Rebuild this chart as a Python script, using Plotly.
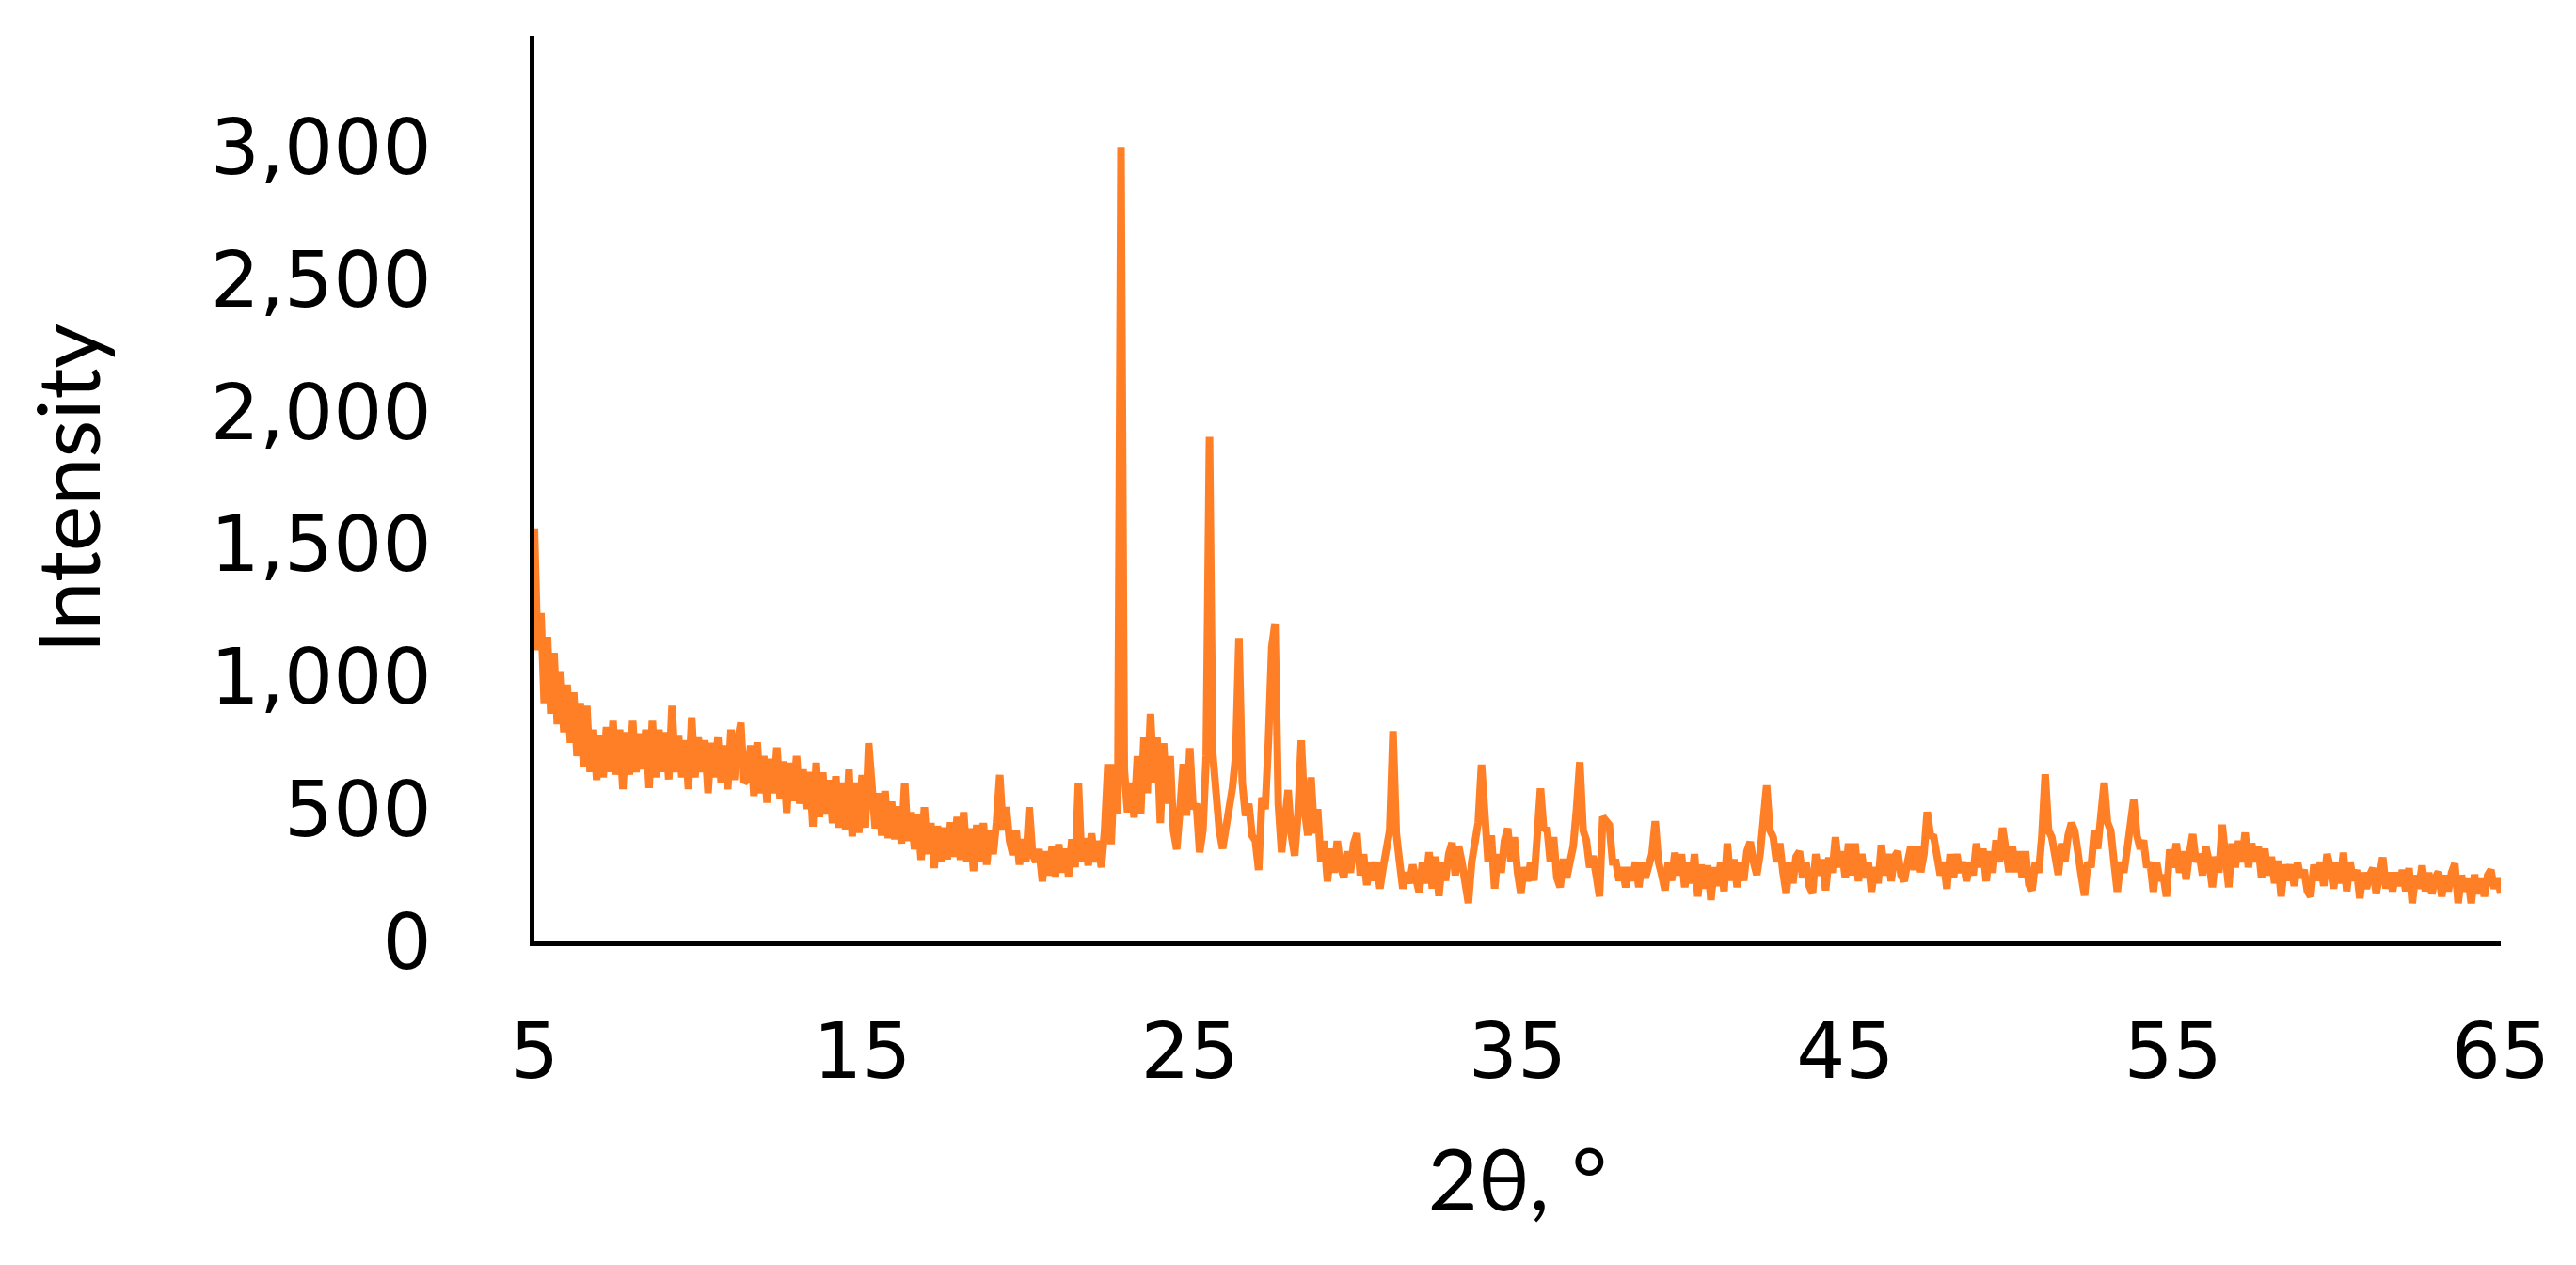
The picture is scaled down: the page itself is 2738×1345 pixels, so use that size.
import plotly.graph_objects as go

# ---- XRD scan (2theta in degrees, intensity in counts) ----
two_theta_low = [
    5.0, 5.1, 5.2, 5.3, 5.4, 5.5, 5.6, 5.7, 5.8, 5.9,
    6.0, 6.1, 6.2, 6.3, 6.4, 6.5, 6.6, 6.7, 6.8, 6.9,
    7.0, 7.1, 7.2, 7.3, 7.4, 7.5, 7.6, 7.7, 7.8, 7.9,
    8.0, 8.1, 8.2, 8.3, 8.4, 8.5, 8.6, 8.7, 8.8, 8.9,
    9.0, 9.1, 9.2, 9.3, 9.4, 9.5, 9.6, 9.7, 9.8, 9.9,
    10.0, 10.1, 10.2, 10.3, 10.4, 10.5, 10.6, 10.7, 10.8, 10.9,
    11.0, 11.1, 11.2, 11.3, 11.4, 11.5, 11.6, 11.7, 11.8, 11.9,
    12.0, 12.1, 12.2, 12.3, 12.4, 12.5, 12.6, 12.7, 12.8, 12.9,
    13.0, 13.1, 13.2, 13.3, 13.4, 13.5, 13.6, 13.7, 13.8, 13.9,
    14.0, 14.1, 14.2, 14.3, 14.4, 14.5, 14.6, 14.7, 14.8, 14.9,
    15.0, 15.1, 15.2, 15.3, 15.4, 15.5, 15.6, 15.7, 15.8, 15.9,
    16.0, 16.1, 16.2, 16.3, 16.4, 16.5, 16.6, 16.7, 16.8, 16.9,
    17.0, 17.1, 17.2, 17.3, 17.4, 17.5, 17.6, 17.7, 17.8, 17.9,
    18.0, 18.1, 18.2, 18.3, 18.4, 18.5, 18.6, 18.7, 18.8, 18.9,
    19.0, 19.1, 19.2, 19.3, 19.4, 19.5, 19.6, 19.7, 19.8, 19.9,
]
intensity_low = [
    1560, 1100, 1240, 900, 1150, 860, 1090, 820, 1020, 790,
    970, 750, 940, 700, 900, 660, 890, 640, 800, 610,
    780, 620, 810, 640, 833, 630, 800, 575, 790, 630,
    833, 640, 785, 650, 800, 580, 833, 620, 800, 640,
    790, 612, 890, 640, 776, 620, 760, 575, 846, 620,
    770, 640, 760, 560, 750, 620, 770, 600, 740, 575,
    800, 610, 760, 826, 600, 611, 740, 550, 752, 560,
    700, 524, 690, 560, 732, 540, 680, 486, 675, 530,
    700, 520, 650, 500, 640, 434, 675, 470, 638, 480,
    610, 447, 624, 430, 600, 420, 649, 397, 600, 410,
    629, 430, 749, 600, 427, 560, 400, 568, 390, 528,
    386, 510, 370, 599, 380, 488, 348, 480, 308, 507,
    330, 447, 277, 436, 300, 430, 310, 450, 320, 470,
    308, 488, 300, 427, 266, 440, 300, 447, 290, 420,
    330, 450, 629, 420, 507, 380, 327, 420, 290, 386,
]

two_theta_main = [
    20.0, 20.1, 20.2, 20.3, 20.4, 20.5, 20.6, 20.7, 20.8, 20.9,
    21.0, 21.1, 21.2, 21.3, 21.4, 21.5, 21.6, 21.7, 21.8, 21.9,
    22.0, 22.1, 22.2, 22.3, 22.4, 22.5, 22.6, 22.7, 22.8, 22.9,
    23.0, 23.1, 23.2, 23.3, 23.4, 23.5, 23.6, 23.7, 23.8, 23.9,
    24.0, 24.1, 24.2, 24.3, 24.4, 24.5, 24.6, 24.7, 24.8, 24.9,
    25.0, 25.1, 25.2, 25.3, 25.4, 25.5, 25.6, 25.7, 25.8, 25.9,
    26.0, 26.1, 26.2, 26.3, 26.4, 26.5, 26.6, 26.7, 26.8, 26.9,
    27.0, 27.1, 27.2, 27.3, 27.4, 27.5, 27.6, 27.7, 27.8, 27.9,
    28.0, 28.1, 28.2, 28.3, 28.4, 28.5, 28.6, 28.7, 28.8, 28.9,
    29.0, 29.1, 29.2, 29.3, 29.4, 29.5, 29.6, 29.7, 29.8, 29.9,
    30.0, 30.1, 30.2, 30.3, 30.4, 30.5, 30.6, 30.7, 30.8, 30.9,
    31.0, 31.1, 31.2, 31.3, 31.4, 31.5, 31.6, 31.7, 31.8, 31.9,
    32.0, 32.1, 32.2, 32.3, 32.4, 32.5, 32.6, 32.7, 32.8, 32.9,
    33.0, 33.1, 33.2, 33.3, 33.4, 33.5, 33.6, 33.7, 33.8, 33.9,
    34.0, 34.1, 34.2, 34.3, 34.4, 34.5, 34.6, 34.7, 34.8, 34.9,
]
intensity_main = [
    300, 507, 330, 300, 348, 227, 340, 250, 360, 246,
    367, 260, 350, 246, 386, 280, 599, 300, 390, 287,
    408, 300, 380, 280, 420, 670, 367, 670, 480, 3000,
    650, 488, 600, 468, 700, 480, 770, 560, 860, 600,
    770, 447, 749, 520, 700, 420, 348, 500, 670, 475,
    730, 500, 520, 337, 420, 700, 1905, 709, 560, 420,
    351, 420, 503, 580, 700, 1146, 600, 475, 520, 400,
    380, 270, 544, 500, 760, 1110, 1200, 520, 337, 480,
    572, 400, 324, 480, 759, 500, 400, 620, 408, 500,
    300, 380, 227, 350, 260, 379, 280, 241, 340, 260,
    370, 408, 250, 330, 213, 300, 230, 300, 200, 280,
    337, 420, 794, 408, 300, 200, 260, 220, 290, 241,
    184, 300, 220, 337, 200, 320, 172, 300, 230, 330,
    372, 250, 360, 300, 220, 145, 300, 380, 450, 668,
    520, 300, 400, 200, 330, 260, 380, 427, 300, 394,
]

two_theta_mid = [
    35.0, 35.1, 35.2, 35.3, 35.4, 35.5, 35.6, 35.7, 35.8, 35.9,
    36.0, 36.1, 36.2, 36.3, 36.4, 36.5, 36.6, 36.7, 36.8, 36.9,
    37.0, 37.1, 37.2, 37.3, 37.4, 37.5, 37.6, 37.7, 37.8, 37.9,
    38.0, 38.1, 38.2, 38.3, 38.4, 38.5, 38.6, 38.7, 38.8, 38.9,
    39.0, 39.1, 39.2, 39.3, 39.4, 39.5, 39.6, 39.7, 39.8, 39.9,
    40.0, 40.1, 40.2, 40.3, 40.4, 40.5, 40.6, 40.7, 40.8, 40.9,
    41.0, 41.1, 41.2, 41.3, 41.4, 41.5, 41.6, 41.7, 41.8, 41.9,
    42.0, 42.1, 42.2, 42.3, 42.4, 42.5, 42.6, 42.7, 42.8, 42.9,
    43.0, 43.1, 43.2, 43.3, 43.4, 43.5, 43.6, 43.7, 43.8, 43.9,
    44.0, 44.1, 44.2, 44.3, 44.4, 44.5, 44.6, 44.7, 44.8, 44.9,
    45.0, 45.1, 45.2, 45.3, 45.4, 45.5, 45.6, 45.7, 45.8, 45.9,
    46.0, 46.1, 46.2, 46.3, 46.4, 46.5, 46.6, 46.7, 46.8, 46.9,
    47.0, 47.1, 47.2, 47.3, 47.4, 47.5, 47.6, 47.7, 47.8, 47.9,
    48.0, 48.1, 48.2, 48.3, 48.4, 48.5, 48.6, 48.7, 48.8, 48.9,
    49.0, 49.1, 49.2, 49.3, 49.4, 49.5, 49.6, 49.7, 49.8, 49.9,
]
intensity_mid = [
    260, 181, 280, 228, 299, 230, 400, 578, 420, 429,
    300, 394, 240, 205, 312, 240, 300, 360, 500, 677,
    420, 382, 280, 323, 250, 170, 471, 454, 440, 300,
    299, 230, 280, 205, 280, 230, 300, 205, 299, 240,
    290, 330, 454, 300, 250, 193, 300, 230, 335, 250,
    330, 205, 300, 220, 330, 170, 290, 200, 287, 157,
    280, 210, 300, 190, 370, 230, 310, 205, 299, 230,
    340, 376, 300, 252, 330, 450, 589, 420, 394, 300,
    370, 260, 181, 300, 220, 320, 340, 240, 300, 210,
    181, 330, 250, 310, 193, 317, 260, 394, 280, 340,
    241, 370, 250, 370, 228, 330, 240, 299, 188, 280,
    220, 365, 250, 330, 228, 320, 340, 250, 228, 299,
    358, 270, 358, 262, 330, 489, 400, 394, 300, 250,
    300, 199, 330, 240, 330, 260, 300, 228, 299, 250,
    370, 280, 350, 228, 340, 260, 382, 300, 429, 320,
]

two_theta_high = [
    50.0, 50.1, 50.2, 50.3, 50.4, 50.5, 50.6, 50.7, 50.8, 50.9,
    51.0, 51.1, 51.2, 51.3, 51.4, 51.5, 51.6, 51.7, 51.8, 51.9,
    52.0, 52.1, 52.2, 52.3, 52.4, 52.5, 52.6, 52.7, 52.8, 52.9,
    53.0, 53.1, 53.2, 53.3, 53.4, 53.5, 53.6, 53.7, 53.8, 53.9,
    54.0, 54.1, 54.2, 54.3, 54.4, 54.5, 54.6, 54.7, 54.8, 54.9,
    55.0, 55.1, 55.2, 55.3, 55.4, 55.5, 55.6, 55.7, 55.8, 55.9,
    56.0, 56.1, 56.2, 56.3, 56.4, 56.5, 56.6, 56.7, 56.8, 56.9,
    57.0, 57.1, 57.2, 57.3, 57.4, 57.5, 57.6, 57.7, 57.8, 57.9,
    58.0, 58.1, 58.2, 58.3, 58.4, 58.5, 58.6, 58.7, 58.8, 58.9,
    59.0, 59.1, 59.2, 59.3, 59.4, 59.5, 59.6, 59.7, 59.8, 59.9,
    60.0, 60.1, 60.2, 60.3, 60.4, 60.5, 60.6, 60.7, 60.8, 60.9,
    61.0, 61.1, 61.2, 61.3, 61.4, 61.5, 61.6, 61.7, 61.8, 61.9,
    62.0, 62.1, 62.2, 62.3, 62.4, 62.5, 62.6, 62.7, 62.8, 62.9,
    63.0, 63.1, 63.2, 63.3, 63.4, 63.5, 63.6, 63.7, 63.8, 63.9,
    64.0, 64.1, 64.2, 64.3, 64.4, 64.5, 64.6, 64.7, 64.8, 64.9,
    65.0,
]
intensity_high = [
    262, 358, 262, 340, 240, 340, 215, 193, 299, 260,
    400, 631, 420, 394, 300, 252, 370, 300, 400, 447,
    418, 300, 250, 174, 300, 280, 418, 350, 450, 600,
    450, 418, 300, 188, 300, 260, 347, 450, 535, 400,
    350, 382, 280, 299, 188, 299, 230, 250, 170, 347,
    280, 370, 260, 340, 234, 330, 405, 300, 330, 250,
    358, 300, 205, 320, 260, 441, 300, 205, 370, 280,
    380, 300, 411, 280, 370, 300, 360, 241, 350, 250,
    320, 220, 305, 170, 290, 230, 290, 210, 299, 240,
    270, 190, 170, 290, 230, 300, 210, 330, 280, 200,
    300, 220, 335, 190, 300, 230, 270, 163, 260, 200,
    250, 277, 180, 260, 317, 200, 260, 190, 260, 210,
    270, 190, 277, 145, 250, 200, 287, 190, 260, 180,
    240, 263, 170, 250, 190, 260, 294, 145, 250, 190,
    240, 145, 252, 180, 240, 170, 250, 270, 200, 240,
    181,
]

x_tick_values = [5, 15, 25, 35, 45, 55, 65]
y_tick_values = [0, 500, 1000, 1500, 2000, 2500, 3000]
x_title = "2θ, °"
y_title = "Intensity"

two_theta = two_theta_low + two_theta_main + two_theta_mid + two_theta_high
intensity = intensity_low + intensity_main + intensity_mid + intensity_high

fig = go.Figure(
    go.Scatter(
        x=two_theta,
        y=intensity,
        mode="lines",
        line=dict(color="#FF7F27", width=8),
        showlegend=False,
        hoverinfo="x+y",
    )
)

tick_font = dict(family="DejaVu Sans", size=82, color="black")
title_font = dict(family="Lato, Liberation Sans, Arial", size=92, color="black")

fig.update_layout(
    width=2738,
    height=1345,
    margin=dict(l=568, r=80, t=38, b=344, pad=0),
    paper_bgcolor="white",
    plot_bgcolor="white",
    showlegend=False,
)

fig.update_xaxes(
    range=[5, 65],
    tickmode="array",
    tickvals=x_tick_values,
    showline=True,
    linecolor="black",
    linewidth=5,
    showgrid=False,
    zeroline=False,
    ticks="",
    ticklabelstandoff=42,
    tickfont=tick_font,
    title=dict(text=x_title, font=title_font, standoff=60),
    automargin=False,
)

fig.update_yaxes(
    range=[0, 3420],
    tickmode="array",
    tickvals=y_tick_values,
    tickformat=",",
    showline=True,
    linecolor="black",
    linewidth=5,
    showgrid=False,
    zeroline=False,
    ticks="",
    ticklabelstandoff=88,
    tickfont=tick_font,
    title=dict(text=y_title, font=title_font, standoff=88),
    automargin=False,
)

fig.write_html(
    "out.html",
    config={"displayModeBar": False},
    post_script="document.body.style.margin='0';",
)
